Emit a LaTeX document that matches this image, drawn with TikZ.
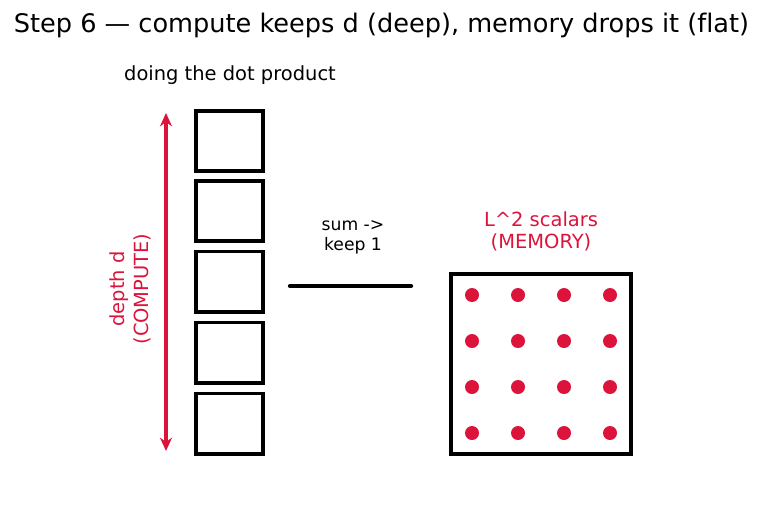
\documentclass[tikz,border=0pt]{standalone}
\usepackage{fontspec}
\setmainfont[Ligatures=NoCommon]{DejaVu Sans}
\usetikzlibrary{arrows.meta}
\definecolor{crim}{RGB}{220,20,60}
\begin{document}
\begin{tikzpicture}[x=0.75pt,y=-0.75pt,
  cell/.style={draw=black,line width=2.9pt,minimum width=71*0.75pt-2.9pt,minimum height=64*0.75pt-2.9pt,inner sep=0pt},
  bigbox/.style={draw=black,line width=2.9pt,minimum width=184*0.75pt-2.9pt,minimum height=184*0.75pt-2.9pt,inner sep=0pt},
  dot/.style={circle,fill=crim,minimum size=14*0.75pt,inner sep=0pt},
  lbl/.style={font=\fontsize{12.9}{15}\selectfont,align=center,inner sep=0pt},
  redlbl/.style={align=center,inner sep=0pt,text=crim,font=\fontsize{14.6}{16.5}\selectfont}]
\useasboundingbox (0,0) rectangle (763,512);
\node[inner sep=0pt,font=\fontsize{19.2}{23}\selectfont] (title) at (381.5,25) {Step 6 — compute keeps d (deep), memory drops it (flat)};
\node[inner sep=0pt,font=\fontsize{14.6}{17}\selectfont] (doing) at (230,75) {doing the dot product};
\node[cell] (c1) at (229.5,141) {};
\node[cell] (c2) at (229.5,211) {};
\node[cell] (c3) at (229.5,281.5) {};
\node[cell] (c4) at (229.5,352.5) {};
\node[cell] (c5) at (229.5,423.5) {};
\coordinate (atop) at (166,113);
\coordinate (abot) at (166,451);
\draw[crim,line width=3pt,{Stealth[length=10pt,width=9pt]}-{Stealth[length=10pt,width=9pt]}] (atop) -- (abot);
\node[redlbl,rotate=90,font=\fontsize{14.6}{18}\selectfont] (depth) at (130,289) {depth d\\(COMPUTE)};
\node[lbl] (sum) at (353,237) {sum ->\\keep 1};
\coordinate (l1) at (290,286);
\coordinate (l2) at (411,286);
\draw[line width=3.2pt,line cap=round] (l1) -- (l2);
\node[redlbl] (mem) at (541,231) {L\textasciicircum 2 scalars\\(MEMORY)};
\node[bigbox] (grid) at (541,364) {};
\foreach \i/\x in {1/472,2/518,3/564,4/610}{
  \foreach \j/\y in {1/295,2/341,3/387,4/433}{
    \node[dot] (d\i\j) at (\x,\y) {};
  }
}
\end{tikzpicture}
\end{document}
